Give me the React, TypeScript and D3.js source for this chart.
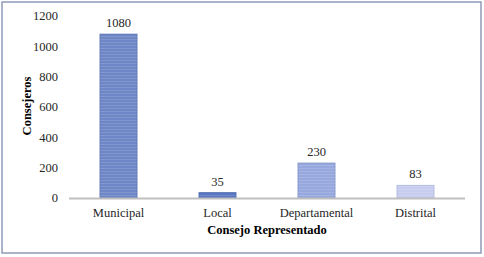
import React from "react";
import * as d3 from "d3";

const categories = ["Municipal", "Local", "Departamental", "Distrital"];
const values = [1080, 35, 230, 83];
const yTicks = [0, 200, 400, 600, 800, 1000, 1200];
const barColors = ["#6f87c6", "#5b78c2", "#97a8de", "#c7cdef"];
const barStrokes = ["#5c74b4", "#4c68b0", "#8595cc", "#b3badf"];

export default function App() {
  const W = 484, H = 257;
  const x = d3.scaleBand<string>().domain(categories).range([69, 465]).paddingInner(0.627).paddingOuter(0.3135);
  const y = d3.scaleLinear().domain([0, 1200]).range([198, 16]);
  const font = "Liberation Serif, Times New Roman, DejaVu Serif, serif";
  return (
    <svg width={W} height={H} style={{ position: "absolute", left: 0, top: 0 }}>
      <defs>
        <pattern id="hatch" width="4" height="3" patternUnits="userSpaceOnUse">
          <rect x="0" y="0" width="4" height="1" fill="rgba(255,255,255,0.12)" />
        </pattern>
      </defs>
      <rect x={0} y={0} width={W} height={H} fill="#fff" />
      <rect x={2} y={2} width={479} height={251} fill="#fff" stroke="#8e9ab8" strokeWidth={1.5} />
      {yTicks.map((t) => (
        <text key={t} x={58} y={y(t)} dy="0.35em" textAnchor="end" style={{ fontFamily: font }} fontSize={12.5} fill="#262626">
          {t}
        </text>
      ))}
      {categories.map((c, i) => {
        const bx = x(c)!;
        const bw = x.bandwidth();
        return (
          <g key={c}>
            <rect x={bx} y={y(values[i])} width={bw} height={y(0) - y(values[i])} fill={barColors[i]} stroke={barStrokes[i]} strokeWidth={1} />
            <rect x={bx} y={y(values[i])} width={bw} height={y(0) - y(values[i])} fill="url(#hatch)" />
            <text x={bx + bw / 2} y={y(values[i]) - 7} textAnchor="middle" style={{ fontFamily: font }} fontSize={12.5} fill="#262626">
              {values[i]}
            </text>
            <text x={bx + bw / 2} y={217} textAnchor="middle" style={{ fontFamily: font }} fontSize={12.5} fill="#262626">
              {c}
            </text>
          </g>
        );
      })}
      <line x1={69} x2={465} y1={y(0) + 0.5} y2={y(0) + 0.5} stroke="#bfbfbf" strokeWidth={2} />
      <text x={267} y={234} textAnchor="middle" style={{ fontFamily: font }} fontSize={12.5} fontWeight="bold" fill="#000">
        Consejo Representado
      </text>
      <text transform={`translate(31,106) rotate(-90)`} textAnchor="middle" style={{ fontFamily: font }} fontSize={12.5} fontWeight="bold" fill="#000">
        Consejeros
      </text>
    </svg>
  );
}
